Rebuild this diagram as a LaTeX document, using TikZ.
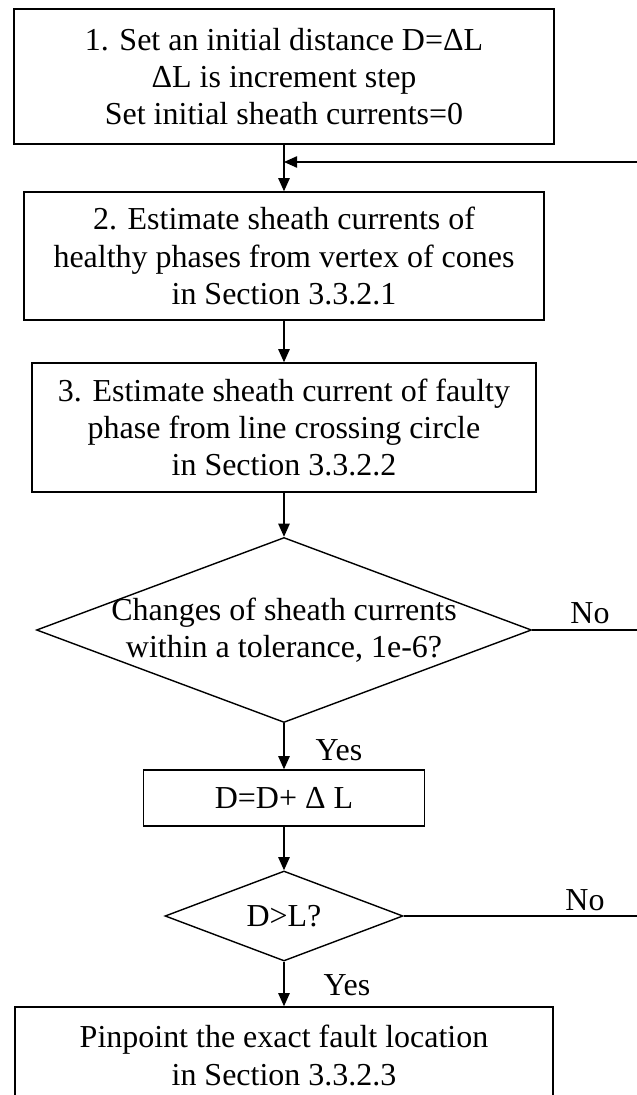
\documentclass[tikz,border=0pt]{standalone}
\usepackage{fontspec}
\setmainfont{Liberation Serif}
\usepackage{tikz}
\usetikzlibrary{shapes.geometric,arrows.meta}

\begin{document}
\begin{tikzpicture}[
    font=\fontsize{18.2}{21.3}\selectfont,
    every path/.style={line width=0.8pt},
    stepbox/.style={draw, rectangle, align=center, inner sep=0pt},
    decision/.style={draw, diamond, align=center, inner sep=0pt},
    flow/.style={-{Triangle[length=7.5pt,width=6.5pt]}}
  ]
    % page size
    \useasboundingbox (0,0) rectangle (12.72,21.9);

    % --- STEPS ---
    \node[stepbox, minimum width=10.8cm, minimum height=2.7cm] (init) at (5.68,20.37)
        {1. Set an initial distance D=ΔL\\ΔL is increment step\\Set initial sheath currents=0};
    \node[stepbox, minimum width=10.4cm, minimum height=2.56cm] (healthy) at (5.68,16.78)
        {2. Estimate sheath currents of\\healthy phases from vertex of cones\\in Section 3.3.2.1};
    \node[stepbox, minimum width=10.08cm, minimum height=2.58cm] (faulty) at (5.68,13.35)
        {3. Estimate sheath current of faulty\\phase from line crossing circle\\in Section 3.3.2.2};

    % tolerance check
    \node[decision, aspect=2.676, inner xsep=-1cm, minimum width=9.9cm, minimum height=3.7cm] (tol) at (5.68,9.30)
        {Changes of sheath currents\\within a tolerance, 1e-6?};

    \node[stepbox, minimum width=5.62cm, minimum height=1.12cm] (incr) at (5.68,5.94) {D=D+ Δ L};

    % end check
    \node[decision, aspect=2.64, minimum width=4.76cm, minimum height=1.8cm] (stop) at (5.68,3.58) {D>L?};

    \node[stepbox, minimum width=10.76cm, minimum height=1.94cm] (locate) at (5.68,0.79)
        {Pinpoint the exact fault location\\in Section 3.3.2.3};

    % --- CONNECTORS ---
    \coordinate (back) at (5.68,18.66);   % where the loop comes back in
    \coordinate (loop) at (13.2,18.66);   % loop line, off the page

    \draw[flow] (init) -- (healthy);
    \draw[flow] (healthy) -- (faulty);
    \draw[flow] (faulty) -- (tol);
    \draw[flow] (tol) -- (incr);
    \draw[flow] (incr) -- (stop);
    \draw[flow] (stop) -- (locate);

    % back to step 2
    \draw (tol.east) -- (tol.east -| loop) -- (loop);
    \draw (stop.east) -- (stop.east -| loop) -- (loop);
    \draw[flow] (loop) -- (back);

    % Yes / No labels
    \node (tolno) at (11.8,9.64) {No};
    \node (tolyes) at (6.78,6.9) {Yes};
    \node (stopno) at (11.7,3.9) {No};
    \node (stopyes) at (6.94,2.2) {Yes};
\end{tikzpicture}
\end{document}
